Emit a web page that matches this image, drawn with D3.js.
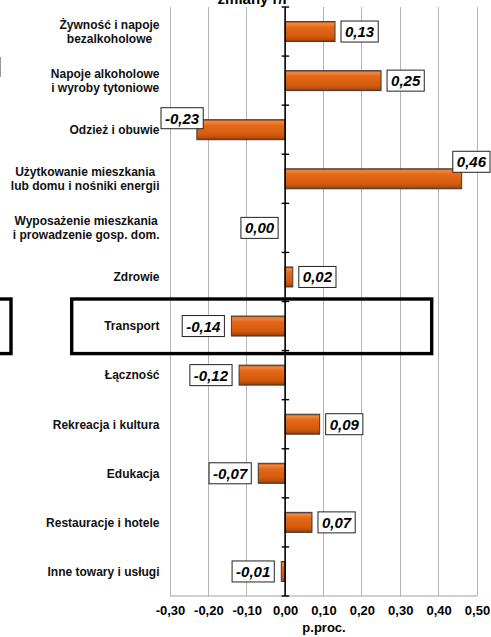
<!DOCTYPE html>
<html>
<head>
<meta charset="utf-8">
<script src="https://cdn.jsdelivr.net/npm/d3@7/dist/d3.min.js"></script>
<style>
  html, body { margin: 0; padding: 0; background: #fff; }
  svg { display: block; font-family: "Liberation Sans", Arial, sans-serif; }
</style>
</head>
<body>
<svg id="chart" width="491" height="637"></svg>
<script>
// ---- data ----
const categories = [
  ["Żywność i napoje", "bezalkoholowe"],
  ["Napoje alkoholowe", "i wyroby tytoniowe"],
  ["Odzież i obuwie"],
  ["Użytkowanie mieszkania", "lub domu i nośniki energii"],
  ["Wyposażenie mieszkania", "i prowadzenie gosp. dom."],
  ["Zdrowie"],
  ["Transport"],
  ["Łączność"],
  ["Rekreacja i kultura"],
  ["Edukacja"],
  ["Restauracje i hotele"],
  ["Inne towary i usługi"]
];
const values = [0.13, 0.25, -0.23, 0.46, 0.00, 0.02, -0.14, -0.12, 0.09, -0.07, 0.07, -0.01];
const tickValues = [-0.3, -0.2, -0.1, 0, 0.1, 0.2, 0.3, 0.4, 0.5];
const titleText = "zmiany r/r";
const axisTitle = "p.proc.";
const highlighted = "Transport";

// ---- setup ----
const W = 491, H = 637;
const svg = d3.select("#chart");
const keys = categories.map(c => c.join(" "));
const locale = d3.formatLocale({decimal: ",", thousands: " ", grouping: [3], currency: ["", ""], minus: "-"});
const fmt = locale.format(".2f");

const x = d3.scaleLinear().domain([-0.3, 0.5]).range([170, 477]);
const y = d3.scaleBand().domain(keys).range([7, 596]).padding(0);
const barH = 20;

// defs: bar gradient
const defs = svg.append("defs");
const g1 = defs.append("linearGradient").attr("id", "barGrad").attr("x1", 0).attr("y1", 0).attr("x2", 0).attr("y2", 1);
[[0, "#a8460c"], [0.1, "#f3883a"], [0.28, "#e5691a"], [0.75, "#d35a0c"], [0.9, "#b84c0a"], [1, "#7a3510"]]
  .forEach(([o, c]) => g1.append("stop").attr("offset", o).attr("stop-color", c));

// title (cut at top)
svg.append("text").attr("x", 253).attr("y", 4).attr("text-anchor", "middle")
  .attr("font-size", 15).attr("font-weight", "bold").text(titleText);

// gridlines
svg.append("g").selectAll("line").data(tickValues.filter(t => t !== 0)).join("line")
  .attr("x1", d => x(d)).attr("x2", d => x(d))
  .attr("y1", y.range()[0]).attr("y2", y.range()[1])
  .attr("stroke", "#b4b4b4").attr("stroke-width", 1).attr("shape-rendering", "crispEdges");
// bottom plot line
svg.append("line").attr("x1", x.range()[0]).attr("x2", x.range()[1])
  .attr("y1", y.range()[1]).attr("y2", y.range()[1])
  .attr("stroke", "#a0a0a0").attr("stroke-width", 1.2);

// x axis
const xAxis = d3.axisBottom(x).tickValues(tickValues).tickFormat(fmt).tickSize(0).tickPadding(0);
const ax = svg.append("g").attr("transform", `translate(0,${y.range()[1] + 19})`).call(xAxis);
ax.select(".domain").remove();
ax.selectAll("text").attr("font-size", 13).attr("font-weight", "bold").attr("fill", "#000")
  .attr("font-family", "Liberation Sans, Arial, sans-serif").attr("dy", 0);
svg.append("text").attr("x", 324).attr("y", 632).attr("text-anchor", "middle")
  .attr("font-size", 13).attr("font-weight", "bold").text(axisTitle);

// bars
const bars = svg.append("g");
keys.forEach((k, i) => {
  const v = values[i];
  const x0 = x(Math.min(0, v)), x1 = x(Math.max(0, v));
  bars.append("rect")
    .attr("x", x0).attr("y", y(k) + (y.bandwidth() - barH) / 2)
    .attr("width", Math.max(0, x1 - x0)).attr("height", barH)
    .attr("fill", v === 0 ? "none" : "url(#barGrad)")
    .attr("stroke", v === 0 ? "#888" : "#3c3c3c").attr("stroke-width", v === 0 ? 1.5 : 1);
});

// zero axis line with ticks
svg.append("line").attr("x1", x(0)).attr("x2", x(0)).attr("y1", y.range()[0]).attr("y2", y.range()[1])
  .attr("stroke", "#000").attr("stroke-width", 1.6);
svg.append("g").selectAll("line").data(d3.range(keys.length + 1)).join("line")
  .attr("x1", x(0) - 3.5).attr("x2", x(0) + 4)
  .attr("y1", d => y.range()[0] + d * y.step()).attr("y2", d => y.range()[0] + d * y.step())
  .attr("stroke", "#000").attr("stroke-width", 1.4);

// category labels (lines centered within block, block right-aligned)
const labG = svg.append("g");
keys.forEach((k, i) => {
  const lines = categories[i];
  const cy = y(k) + y.bandwidth() / 2;
  const lh = 13.5;
  const g = labG.append("g");
  const ts = lines.map((ln, j) => g.append("text")
    .attr("y", cy + (j - (lines.length - 1) / 2) * lh + 4.3)
    .attr("text-anchor", "middle").attr("font-size", 12).attr("font-weight", "bold")
    .attr("fill", "#111").text(ln));
  const maxW = d3.max(ts, t => t.node().getComputedTextLength());
  ts.forEach(t => t.attr("x", 159.5 - maxW / 2));
});

// value labels
const valG = svg.append("g");
keys.forEach((k, i) => {
  const v = values[i];
  const cy = y(k) + y.bandwidth() / 2;
  const g = valG.append("g");
  const rect = g.append("rect").attr("fill", "#fff").attr("stroke", "#222").attr("stroke-width", 1);
  const t = g.append("text").attr("text-anchor", "middle").attr("font-size", 15)
    .attr("font-weight", "bold").attr("font-style", "italic").attr("fill", "#000").text(fmt(v));
  const tw = t.node().getComputedTextLength();
  const bw = tw + 8, bh = 21;
  let left, cyBox = cy;
  const end = x(v);
  if (v > 0) {
    left = end + 6;
    if (left + bw > W - 1) { left = W - 1 - bw; cyBox = cy - 17; }
  } else {
    left = end - 7 - bw;
    if (left < x.range()[0] - 5) { left = x.range()[0] - 9; cyBox = cy - 11.5; }
  }
  rect.attr("x", left).attr("y", cyBox - bh / 2).attr("width", bw).attr("height", bh);
  t.attr("x", left + bw / 2).attr("y", cyBox + 5.5);
});

// highlight box around Transport
const hy = y(highlighted);
svg.append("rect").attr("x", 71.7).attr("y", hy - 2.5).attr("width", 360).attr("height", y.bandwidth() + 5.5)
  .attr("fill", "none").attr("stroke", "#000").attr("stroke-width", 3.4);
// partial box on the far left edge
svg.append("rect").attr("x", -30).attr("y", hy - 2.5).attr("width", 41).attr("height", y.bandwidth() + 5.5)
  .attr("fill", "none").attr("stroke", "#000").attr("stroke-width", 3.4);
// small gray stroke at far left
svg.append("line").attr("x1", 0.5).attr("x2", 0.5).attr("y1", 57).attr("y2", 77)
  .attr("stroke", "#999").attr("stroke-width", 1);
</script>
</body>
</html>
